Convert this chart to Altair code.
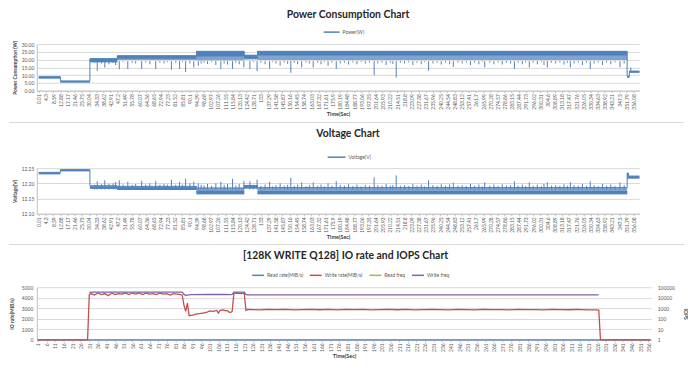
import altair as alt
import pandas as pd

BLUE = "#4F81BD"
RED = "#C0504D"
GREEN = "#9BBB59"
PURPLE = "#8064A2"
FONT = "Lato"
TXT = "#595959"
SEP = "#D9D9D9"

# ---------------- tick labels ----------------
power_ticks = [0.01, 4.3, 8.59, 12.88, 17.17, 21.46, 25.75, 30.04, 34.33, 38.62,
               42.91, 47.2, 51.49, 55.78, 60.07, 64.36, 68.65, 72.94, 77.23, 81.52,
               85.81, 90.1, 94.39, 98.68, 102.97, 107.26, 111.55, 115.84, 120.13, 124.42,
               128.71, 133, 137.29, 141.58, 145.87, 150.16, 154.45, 158.74, 163.03, 167.32,
               171.61, 175.9, 180.19, 184.48, 188.77, 193.06, 197.35, 201.64, 205.93, 210.22,
               214.51, 218.8, 223.09, 227.38, 231.67, 235.96, 240.25, 244.54, 248.83, 253.12,
               257.41, 261.7, 265.99, 270.28, 274.57, 278.86, 283.15, 287.44, 291.73, 296.02,
               300.31, 304.6, 308.89, 313.18, 317.47, 321.76, 326.05, 330.34, 334.63, 338.92,
               343.21, 347.5, 351.79, 356.08]
io_ticks = [1, 6, 11, 16, 21, 26, 31, 36, 41, 46, 51, 56, 61, 66, 71, 76, 81, 86, 91, 96,
            101, 106, 111, 116, 121, 126, 131, 136, 141, 146, 151, 156, 161, 166, 171, 176,
            181, 186, 191, 196, 201, 206, 211, 216, 221, 226, 231, 236, 241, 246, 251, 256,
            261, 266, 271, 276, 281, 286, 291, 296, 301, 306, 311, 316, 321, 326, 331, 336,
            341, 346, 351, 356]
power_y_ticks = [0, 5, 10, 15, 20, 25, 30]
volt_y_ticks = [12.10, 12.15, 12.20, 12.25]
io_left_ticks = [0, 1000, 2000, 3000, 4000, 5000]
io_right_ticks = [1, 10, 100, 1000, 10000, 100000]

# ---------------- power (W): piecewise level bands ----------------
power_band_t = [0, 12.9, 30.6, 47.0, 94.4, 123.0, 131.0, 352.3, 353.6, 359.6]
power_band_lo = [7.9, 5.2, 18.3, 19.8, 19.5, 20.0, 19.8, 8.3, 11.5, 11.5]
power_band_mid = [7.9, 5.2, 18.3, 20.6, 22.0, 20.5, 22.6, 8.3, 11.5, 11.5]
power_band_hi = [9.0, 6.3, 20.6, 22.5, 25.3, 22.8, 25.3, 9.5, 12.6, 12.6]

# ---------------- voltage (V): piecewise level bands ----------------
volt_band_t = [0, 12.9, 30.6, 47.0, 94.4, 123.0, 131.0, 352.3, 353.0, 359.6]
volt_band_lo = [12.230, 12.240, 12.182, 12.178, 12.164, 12.183, 12.164, 12.216, 12.216, 12.216]
volt_band_mid = [12.236, 12.245, 12.190, 12.187, 12.176, 12.191, 12.175, 12.234, 12.223, 12.223]
volt_band_hi = [12.236, 12.245, 12.192, 12.190, 12.185, 12.193, 12.186, 12.234, 12.224, 12.224]

# ---------------- spikes (same instants in both traces) ----------------
spike_t = [33.5, 35.0, 37.5, 39.5, 42.0, 44.5, 46.0,
           48.2, 50.5, 53.3, 56.0, 58.0, 61.6, 64.0, 66.5, 70.0, 72.5,
           75.0, 77.0, 79.4, 82.0, 84.3, 86.0, 87.9, 90.5, 92.8,
           95.5, 97.2, 99.0, 101.0, 103.5, 106.0, 109.0, 111.0, 113.0, 116.0,
           118.0, 120.0, 122.8,
           126.4, 128.5, 130.7,
           133.0, 135.5, 138.2, 140.0, 142.0, 144.5, 147.0, 149.0, 150.9, 153.0,
           155.0, 157.4, 160.0, 162.0, 164.3, 167.0, 169.0, 171.0, 173.2, 175.5,
           178.1, 180.5, 183.0, 185.5, 188.0, 190.5, 193.0, 195.5, 198.0, 200.8,
           203.0, 205.5, 208.0, 210.5, 212.0, 214.0, 216.5, 219.0, 221.5, 224.0,
           226.5, 229.0, 231.0, 233.4, 236.0, 238.5, 241.0, 243.5, 246.0, 248.2,
           251.0, 253.5, 256.0, 258.5, 261.0, 263.5, 265.5, 267.0, 270.0, 272.5,
           275.0, 277.5, 280.0, 282.5, 284.8, 287.0, 289.5, 291.5, 293.7, 296.0,
           298.5, 301.0, 302.5, 304.5, 307.0, 309.5, 312.0, 314.5, 316.5, 318.3,
           320.5, 323.0, 325.5, 328.0, 330.2, 332.5, 335.0, 337.5, 340.0, 342.5,
           345.0, 348.0, 350.5]
spike_power = [18.0, 12.8, 17.5, 14.9, 17.0, 17.8, 16.5,
               13.8, 18.5, 14.0, 18.0, 17.5, 14.0, 18.2, 17.0, 14.0, 18.0,
               17.5, 18.4, 13.5, 18.0, 14.0, 18.5, 12.0, 17.5, 15.0,
               16.0, 17.5, 18.0, 17.2, 18.5, 16.5, 14.0, 17.5, 16.8, 14.0,
               18.0, 17.0, 15.0,
               14.0, 18.5, 12.5,
               18.0, 17.0, 14.0, 18.5, 17.5, 16.0, 18.0, 17.2, 11.5, 18.0,
               17.0, 15.0, 18.2, 17.5, 15.0, 18.0, 17.0, 18.5, 16.0, 18.0,
               14.0, 17.5, 18.0, 16.8, 18.2, 17.0, 18.5, 17.5, 18.0, 10.0,
               17.5, 18.0, 16.5, 18.0, 17.2, 8.5, 18.0, 17.5, 18.2, 16.5,
               18.0, 17.0, 18.5, 12.8, 17.5, 18.0, 16.8, 18.0, 17.0, 15.3,
               18.0, 17.5, 18.2, 16.5, 18.0, 17.0, 18.5, 15.0, 18.0, 17.0,
               18.2, 16.8, 18.0, 17.5, 14.0, 18.0, 17.0, 18.2, 15.0, 18.0,
               17.0, 18.5, 16.5, 15.0, 18.0, 17.5, 18.2, 16.8, 18.0, 15.0,
               17.5, 18.0, 16.5, 18.0, 14.0, 17.5, 18.2, 16.5, 18.0, 17.0,
               18.2, 15.0, 17.5]
spike_volt = [12.195, 12.207, 12.197, 12.210, 12.198, 12.200, 12.205,
              12.210, 12.196, 12.205, 12.195, 12.198, 12.208, 12.196, 12.200, 12.208, 12.195,
              12.198, 12.196, 12.212, 12.196, 12.205, 12.196, 12.215, 12.200, 12.205,
              12.200, 12.195, 12.193, 12.198, 12.192, 12.200, 12.205, 12.195, 12.198, 12.215,
              12.193, 12.198, 12.208,
              12.207, 12.195, 12.212,
              12.192, 12.196, 12.205, 12.190, 12.194, 12.200, 12.192, 12.195, 12.218, 12.192,
              12.196, 12.203, 12.191, 12.194, 12.203, 12.192, 12.196, 12.190, 12.200, 12.192,
              12.207, 12.194, 12.192, 12.197, 12.191, 12.196, 12.190, 12.194, 12.192, 12.220,
              12.194, 12.192, 12.198, 12.192, 12.195, 12.226, 12.192, 12.194, 12.191, 12.198,
              12.192, 12.196, 12.190, 12.210, 12.194, 12.192, 12.197, 12.192, 12.196, 12.202,
              12.192, 12.194, 12.191, 12.198, 12.192, 12.196, 12.190, 12.203, 12.192, 12.196,
              12.191, 12.197, 12.192, 12.194, 12.207, 12.192, 12.196, 12.191, 12.203, 12.192,
              12.196, 12.190, 12.198, 12.203, 12.192, 12.194, 12.191, 12.197, 12.192, 12.203,
              12.194, 12.192, 12.198, 12.192, 12.207, 12.194, 12.191, 12.198, 12.192, 12.196,
              12.191, 12.203, 12.194]
end_spike_t = [354.5]
end_spike_power = [14.9]

# ---------------- IO rate / IOPS ----------------
read_rate_t = [1, 357]
read_rate_v = [0, 0]
write_rate_t = [1, 30, 31, 32, 34, 36, 38, 40, 42, 44,
                46, 48, 50, 52, 54, 56, 58, 60, 62, 64,
                66, 68, 70, 72, 74, 76, 78, 80, 82, 84,
                85, 86, 87, 88, 89, 91, 93, 95, 97, 99,
                101, 103, 105, 106, 107, 109, 110, 111, 112, 113,
                114, 115, 117, 119, 121, 122, 123, 126, 130, 135,
                140, 145, 150, 155, 160, 165, 170, 175, 180, 185,
                190, 195, 200, 205, 210, 215, 220, 225, 230, 235,
                240, 245, 250, 255, 260, 265, 270, 275, 280, 285,
                290, 295, 300, 305, 310, 315, 320, 325, 327, 328,
                357]
write_rate_v = [0, 0, 4300, 4400, 4250, 4450, 4300, 4400, 4200, 4450,
                4300, 4400, 4350, 4450, 4300, 4450, 4350, 4450, 4300, 4450,
                4350, 4400, 4300, 4450, 4350, 4400, 4250, 4400, 4350, 4300,
                4250, 3300, 2700, 3500, 2300, 2350, 2450, 2500, 2550, 2600,
                2750, 2700, 2800, 2550, 2800, 2850, 2750, 2800, 2650, 2600,
                2700, 4400, 4450, 4400, 4450, 2800, 2900, 2880, 2850, 2900,
                2870, 2900, 2850, 2880, 2900, 2860, 2890, 2850, 2900, 2870,
                2900, 2850, 2880, 2900, 2860, 2900, 2850, 2880, 2900, 2870,
                2850, 2900, 2880, 2850, 2900, 2870, 2880, 2850, 2900, 2870,
                2880, 2850, 2900, 2880, 2860, 2900, 2850, 2850, 2820, 0,
                0]
write_freq_t = [31, 33, 40, 50, 60, 70, 80, 85, 86, 87, 90, 100, 110, 113, 114,
                115, 121, 122, 123, 150, 200, 250, 300, 327]
write_freq_v = [33000, 35000, 34000, 35000, 34500, 35000, 34000, 34000, 21000, 17000,
                19500, 20500, 20500, 20000, 21000, 35000, 35000, 21000, 19000, 19000,
                18800, 19000, 18800, 18800]
io_series = ["Read rate(MiB/s)", "Write rate(MiB/s)", "Read freq", "Write freq"]
io_colors = [BLUE, RED, GREEN, PURPLE]

# ---------------- helpers ----------------
def x_axis(ticks):
    return alt.Axis(values=ticks, labelExpr="'' + datum.value", labelAngle=-90,
                    labelFontSize=5, labelPadding=1, labelOverlap=False,
                    labelFlush=False, labelBound=False, tickSize=2, grid=False,
                    title="Time(Sec)", titleFontSize=5.5, titlePadding=2)

def legend(x, y, size):
    return alt.Legend(orient="none", legendX=x, legendY=y, direction="horizontal",
                      title=None, symbolType="M-1,0H1", symbolSize=size,
                      symbolStrokeWidth=1.5, labelFontSize=5, labelColor=TXT,
                      labelFont=FONT, labelOffset=2, columnPadding=3, padding=0)

def title(text, dx, offset):
    return alt.TitleParams(text, fontSize=10.5, font=FONT, fontWeight="bold",
                           color="#262626", anchor="middle", frame="group",
                           offset=offset, dx=dx)

def separator(y):
    return alt.Chart(pd.DataFrame({"k": [0]})).mark_rule(color=SEP, strokeWidth=1).encode(
        x=alt.value(-28), x2=alt.value(652), y=alt.value(y))

# ---------------- panel 1: power ----------------
p_band = pd.DataFrame({"t": power_band_t, "lo": power_band_lo, "mid": power_band_mid,
                       "hi": power_band_hi, "s": ["Power(W)"] * len(power_band_t)})
p_spk = pd.DataFrame({"t": spike_t + end_spike_t, "v": spike_power + end_spike_power,
                      "b": [19.0] * len(spike_t) + [12.0]})
px = alt.X("t:Q", scale=alt.Scale(domain=[-1.2, 359.6], nice=False, zero=False),
           axis=x_axis(power_ticks), title="Time(Sec)")
pyscale = alt.Scale(domain=[0, 30], nice=False)
pyaxis = alt.Axis(values=power_y_ticks, format=".2f", grid=True, ticks=False,
                  labelFontSize=5, labelPadding=3, minExtent=16, maxExtent=16,
                  title="Power Consumption (W)", titleFontSize=5, titlePadding=3)
ptitle = "Power Consumption (W)"

p1 = alt.layer(
    alt.Chart(p_band).mark_area(interpolate="step-after", color=BLUE, opacity=0.72).encode(
        x=px, y=alt.Y("lo:Q", scale=pyscale, axis=pyaxis, title=ptitle), y2="hi:Q"),
    alt.Chart(p_band).mark_area(interpolate="step-after", color=BLUE).encode(
        x=px, y=alt.Y("mid:Q", scale=pyscale, axis=pyaxis, title=ptitle), y2="hi:Q"),
    alt.Chart(p_spk).mark_rule(color=BLUE, strokeWidth=1).encode(
        x=px, y=alt.Y("v:Q", scale=pyscale, axis=pyaxis, title=ptitle), y2="b:Q"),
    alt.Chart(p_band).mark_line(interpolate="step-after", strokeWidth=1).encode(
        x=px, y=alt.Y("hi:Q", scale=pyscale, axis=pyaxis, title=ptitle),
        color=alt.Color("s:N", scale=alt.Scale(domain=["Power(W)"], range=[BLUE]),
                        legend=legend(288, -21, 256))),
    separator(79),
).properties(width=607, height=47, title=title("Power Consumption Chart", 10, 3))

# ---------------- panel 2: voltage ----------------
v_band = pd.DataFrame({"t": volt_band_t, "lo": volt_band_lo, "mid": volt_band_mid,
                       "hi": volt_band_hi, "s": ["Voltage(V)"] * len(volt_band_t)})
v_spk = pd.DataFrame({"t": spike_t, "v": spike_volt, "b": [12.18] * len(spike_t)})
vyscale = alt.Scale(domain=[12.10, 12.25], nice=False, zero=False)
vyaxis = alt.Axis(values=volt_y_ticks, format=".2f", grid=True, ticks=False,
                  labelFontSize=5, labelPadding=3, minExtent=16, maxExtent=16,
                  title="Voltage(V)", titleFontSize=5, titlePadding=3)
vtitle = "Voltage(V)"
p2 = alt.layer(
    alt.Chart(v_band).mark_area(interpolate="step-after", color=BLUE, opacity=0.72).encode(
        x=px, y=alt.Y("lo:Q", scale=vyscale, axis=vyaxis, title=vtitle), y2="hi:Q"),
    alt.Chart(v_band).mark_area(interpolate="step-after", color=BLUE).encode(
        x=px, y=alt.Y("lo:Q", scale=vyscale, axis=vyaxis, title=vtitle), y2="mid:Q"),
    alt.Chart(v_spk).mark_rule(color=BLUE, strokeWidth=1).encode(
        x=px, y=alt.Y("v:Q", scale=vyscale, axis=vyaxis, title=vtitle), y2="b:Q"),
    alt.Chart(v_band).mark_line(interpolate="step-after", strokeWidth=1).encode(
        x=px, y=alt.Y("hi:Q", scale=vyscale, axis=vyaxis, title=vtitle),
        color=alt.Color("s:N", scale=alt.Scale(domain=["Voltage(V)"], range=[BLUE]),
                        legend=legend(292, -21, 324))),
    separator(77),
).properties(width=607, height=46, title=title("Voltage Chart", 10, 7.5))

# ---------------- panel 3: IO rate & IOPS ----------------
io_rates = pd.DataFrame({
    "t": read_rate_t + write_rate_t,
    "v": read_rate_v + write_rate_v,
    "s": [io_series[0]] * len(read_rate_t) + [io_series[1]] * len(write_rate_t)})
io_freq = pd.DataFrame({"t": write_freq_t, "v": write_freq_v,
                        "s": [io_series[3]] * len(write_freq_t)})
iox = alt.X("t:Q", scale=alt.Scale(domain=[0.5, 357.5], nice=False, zero=False),
            axis=x_axis(io_ticks), title="Time(Sec)")
io_color = alt.Color("s:N", scale=alt.Scale(domain=io_series, range=io_colors),
                     legend=legend(216, -19, 144))
p3 = alt.layer(
    alt.Chart(io_rates).mark_line(strokeWidth=1.3).encode(
        x=iox,
        y=alt.Y("v:Q", scale=alt.Scale(domain=[0, 5000], nice=False),
                axis=alt.Axis(values=io_left_ticks, format="d", grid=True, ticks=False,
                              labelFontSize=5, labelPadding=4, minExtent=18, maxExtent=18,
                              title="IO rate(MiB/s)", titleFontSize=5, titlePadding=4),
                title="IO rate(MiB/s)"),
        color=io_color, order=alt.Order("s:N")),
    alt.Chart(io_freq).mark_line(strokeWidth=1.3).encode(
        x=iox,
        y=alt.Y("v:Q", scale=alt.Scale(type="log", domain=[1, 100000], nice=False),
                axis=alt.Axis(orient="right", values=io_right_ticks, format="d",
                              grid=False, ticks=False, domain=False, labelFontSize=5,
                              labelPadding=6, title="IOPS", titleFontSize=5,
                              titlePadding=8),
                title="IOPS"),
        color=io_color),
).resolve_scale(y="independent").properties(
    width=619, height=53,
    title=title("[128K WRITE Q128] IO rate and IOPS Chart", 1.5, 6.5))

chart = alt.vconcat(p1, p2, p3, spacing=6).resolve_scale(
    color="independent").resolve_legend(color="independent").properties(
    padding=0).configure(
    font=FONT).configure_view(stroke=None).configure_axis(
    labelColor=TXT, titleColor="#404040", titleFontWeight="bold", titleFont=FONT,
    labelFont=FONT, gridColor="#D9D9D9", domainColor="#BFBFBF", tickColor="#BFBFBF",
    domainWidth=1, gridWidth=1)

chart.save("out.html", embed_options={"renderer": "svg", "actions": False})
